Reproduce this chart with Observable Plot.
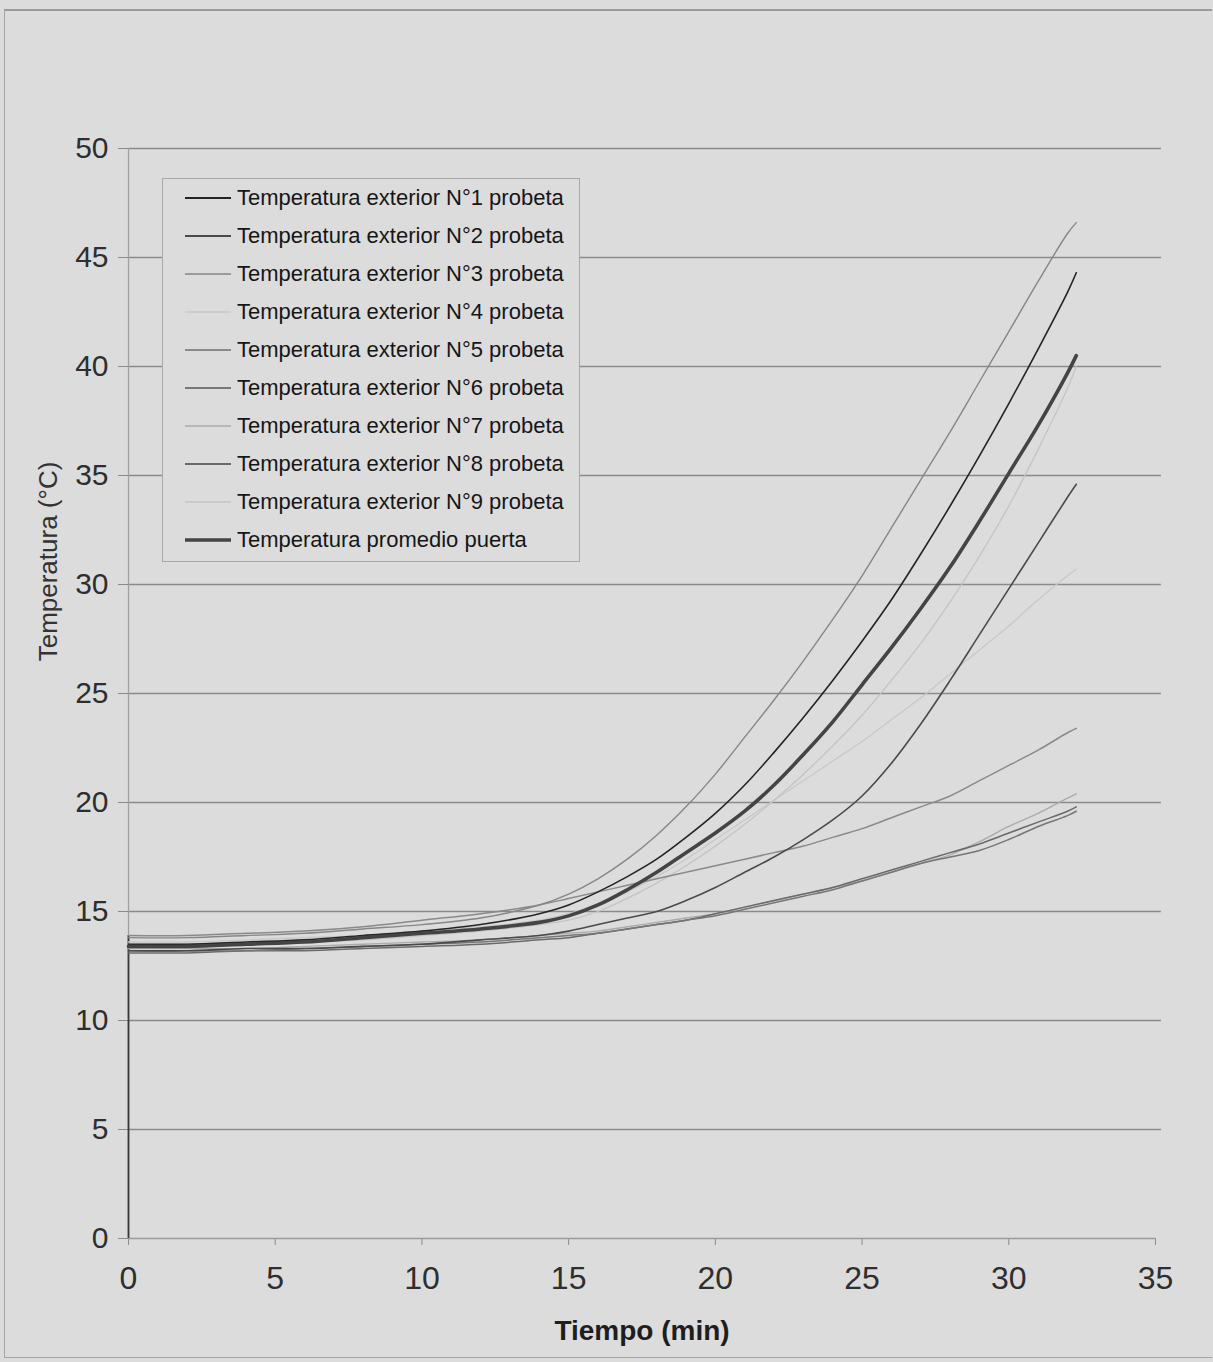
<!DOCTYPE html>
<html>
<head>
<meta charset="utf-8">
<script src="https://cdn.jsdelivr.net/npm/d3@7"></script>
<script src="https://cdn.jsdelivr.net/npm/@observablehq/plot@0.6"></script>
<style>
  html, body { margin: 0; padding: 0; background: #dcdcdc; }
  #wrap { position: relative; width: 1213px; height: 1362px; overflow: hidden; background: #dcdcdc; }
  #frame { position: absolute; left: 4px; top: 9px; width: 1208px; height: 1349px;
           border-top: 2px solid #9a9a9a; border-left: 1.5px solid #a5a5a5; border-bottom: 1.5px solid #a5a5a5; box-sizing: border-box; }
  #legend { position: absolute; left: 162px; top: 178px; width: 418px; height: 384px;
            border: 1.5px solid #a8a8a8; box-sizing: border-box; background: #dcdcdc;
            font-family: "Liberation Sans", Arial, sans-serif; font-size: 22px; color: #161616; }
  .row { position: absolute; left: 0; height: 38px; display: flex; align-items: center; white-space: nowrap; }
  .row svg { margin-left: 22px; margin-right: 6px; }
</style>
</head>
<body>
<div id="wrap">
  <div id="chart"></div>
  <div id="frame"></div>
  <div id="legend"></div>
</div>
<script>
// ---- data ----
const tiempo = [0,2,4,6,8,10,12,14,15,16,17,18,19,20,21,22,23,24,25,26,27,28,29,30,31,32,32.3];

const probeta1 = [13.5,13.5,13.6,13.7,13.9,14.1,14.4,14.9,15.3,15.9,16.6,17.4,18.4,19.5,20.8,22.3,23.9,25.6,27.4,29.3,31.4,33.6,35.9,38.3,40.8,43.4,44.3];
const probeta2 = [13.2,13.2,13.3,13.3,13.4,13.5,13.7,13.9,14.1,14.4,14.7,15.0,15.5,16.1,16.8,17.5,18.3,19.2,20.3,21.8,23.6,25.6,27.7,29.8,31.9,34.0,34.6];
const probeta3 = [13.8,13.8,13.9,14.0,14.2,14.4,14.7,15.3,15.8,16.5,17.4,18.5,19.8,21.3,23.0,24.7,26.5,28.4,30.4,32.6,34.8,37.0,39.3,41.6,43.9,46.1,46.6];
const probeta4 = [13.6,13.6,13.7,13.8,13.9,14.1,14.3,14.6,14.9,15.3,15.9,16.6,17.4,18.3,19.2,20.1,21.0,21.9,22.8,23.8,24.8,25.9,27.0,28.1,29.3,30.4,30.7];
const probeta5 = [13.9,13.9,14.0,14.1,14.3,14.6,14.9,15.3,15.6,15.9,16.2,16.5,16.8,17.1,17.4,17.7,18.0,18.4,18.8,19.3,19.8,20.3,21.0,21.7,22.4,23.2,23.4];
const probeta6 = [13.2,13.2,13.2,13.3,13.4,13.5,13.6,13.8,13.9,14.0,14.2,14.4,14.6,14.8,15.1,15.4,15.7,16.0,16.4,16.8,17.2,17.5,17.8,18.3,18.9,19.4,19.6];
const probeta7 = [13.3,13.3,13.3,13.4,13.5,13.6,13.7,13.9,14.0,14.1,14.3,14.5,14.7,14.9,15.2,15.5,15.8,16.1,16.4,16.8,17.2,17.6,18.2,18.9,19.5,20.2,20.4];
const probeta8 = [13.1,13.1,13.2,13.2,13.3,13.4,13.5,13.7,13.8,14.0,14.2,14.4,14.6,14.9,15.2,15.5,15.8,16.1,16.5,16.9,17.3,17.7,18.1,18.6,19.1,19.6,19.8];
const probeta9 = [13.5,13.5,13.5,13.6,13.7,13.9,14.1,14.4,14.6,15.0,15.6,16.3,17.1,18.0,19.0,20.1,21.3,22.6,24.0,25.6,27.3,29.2,31.3,33.6,36.2,39.0,40.0];
const promedio = [13.4,13.4,13.5,13.6,13.8,14.0,14.2,14.5,14.8,15.3,16.0,16.8,17.7,18.6,19.6,20.8,22.2,23.7,25.4,27.1,28.9,30.8,32.9,35.1,37.3,39.7,40.5];

const nombres = [
  "Temperatura exterior N°1 probeta",
  "Temperatura exterior N°2 probeta",
  "Temperatura exterior N°3 probeta",
  "Temperatura exterior N°4 probeta",
  "Temperatura exterior N°5 probeta",
  "Temperatura exterior N°6 probeta",
  "Temperatura exterior N°7 probeta",
  "Temperatura exterior N°8 probeta",
  "Temperatura exterior N°9 probeta",
  "Temperatura promedio puerta"
];
const xTicks = [0,5,10,15,20,25,30,35];
const yTicks = [0,5,10,15,20,25,30,35,40,45,50];

// ---- styles (separate from data) ----
const colores = ["#242424","#4a4a4a","#868686","#c8c8c8","#8a8a8a","#767676","#ababab","#6a6a6a","#c4c4c4","#444444"];
const grosores = [1.6,1.6,1.4,1.3,1.5,1.5,1.4,1.5,1.3,3.6];
const ordenDibujo = [3,8,6,4,2,7,5,1,0,9];

const valores = [probeta1,probeta2,probeta3,probeta4,probeta5,probeta6,probeta7,probeta8,probeta9,promedio];
const series = valores.map((vals, i) => tiempo.map((t, j) => ({t, v: vals[j], serie: nombres[i]})));

const font = "'Liberation Sans', Arial, sans-serif";

const lineMarks = ordenDibujo.map(i => Plot.line(series[i], {
  x: "t", y: "v", stroke: colores[i], strokeWidth: grosores[i], curve: "catmull-rom"
}));

const startMax = d3.max(valores, v => v[0]);

const chart = Plot.plot({
  width: 1213,
  height: 1362,
  marginLeft: 128,
  marginRight: 58,
  marginTop: 148,
  marginBottom: 124,
  style: { background: "transparent", fontFamily: font, color: "#2a2a2a" },
  x: { domain: [0, 35] },
  y: { domain: [0, 50] },
  marks: [
    Plot.ruleY(yTicks.slice(1), { y: d => d, x1: 0, x2: 35.2, stroke: "#8a8a8a", strokeWidth: 1.3 }),
    Plot.axisY({ ticks: yTicks, tickSize: 10, tickPadding: 10, fontSize: 30, label: null, stroke: "#8a8a8a", fill: "#2e2e2e" }),
    Plot.axisX({ ticks: xTicks, tickSize: 7, tickPadding: 21, fontSize: 32, label: null, stroke: "#8a8a8a", fill: "#2e2e2e" }),
    Plot.ruleY([0], { stroke: "#9a9a9a", strokeWidth: 1.3 }),
    Plot.ruleX([0], { stroke: "#a0a0a0", strokeWidth: 1.3 }),
    Plot.ruleX([0], { y1: 0, y2: startMax, stroke: "#3a3a3a", strokeWidth: 1.8 }),
    ...lineMarks,
    Plot.text(["Tiempo (min)"], { frameAnchor: "bottom", dy: 93, fontSize: 28, fontWeight: "bold", fill: "#1e1e1e", textAnchor: "middle", lineAnchor: "middle", letterSpacing: "-1px" }),
    Plot.text(["Temperatura (°C)"], { frameAnchor: "left", dx: -80, dy: -132, rotate: -90, fontSize: 26, fill: "#333", textAnchor: "middle", lineAnchor: "middle" })
  ]
});
document.getElementById("chart").appendChild(chart);

// ---- legend ----
const legend = d3.select("#legend");
nombres.forEach((name, i) => {
  const row = legend.append("div").attr("class", "row").style("top", (i * 38) + "px");
  const s = row.append("svg").attr("width", 46).attr("height", 8);
  s.append("line").attr("x1", 0).attr("x2", 46).attr("y1", 4).attr("y2", 4)
    .attr("stroke", colores[i]).attr("stroke-width", grosores[i] + (i === 9 ? 0 : 0.3));
  row.append("span").text(name);
});
</script>
</body>
</html>
